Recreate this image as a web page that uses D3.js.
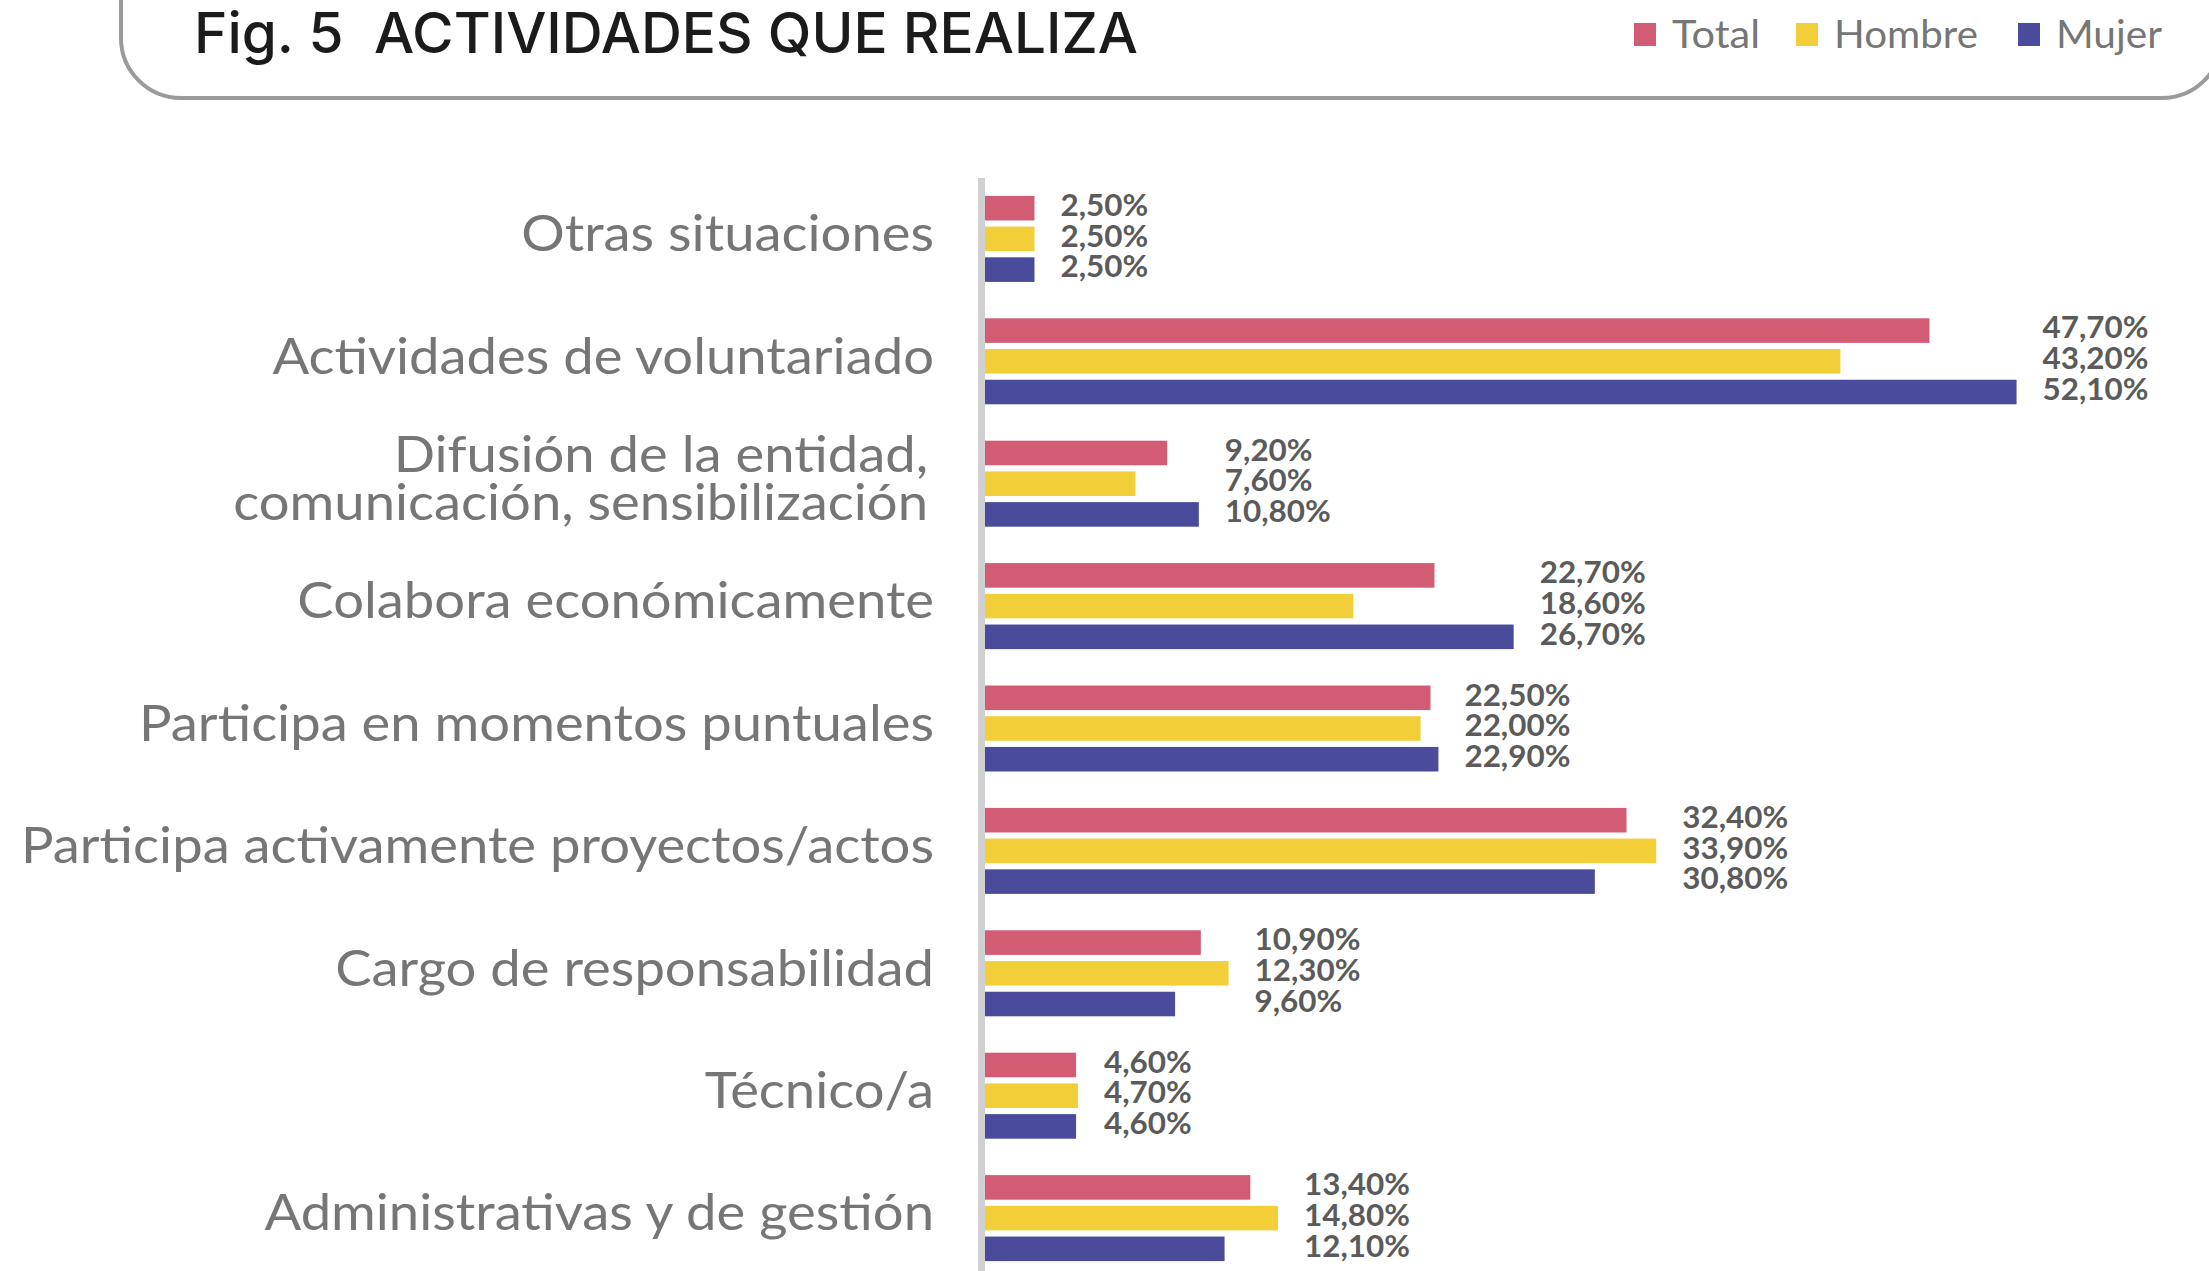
<!DOCTYPE html>
<html>
<head>
<meta charset="utf-8">
<script src="https://cdn.jsdelivr.net/npm/d3@7"></script>
<style>
  html, body { margin: 0; padding: 0; background: #ffffff; }
  svg { display: block; }
  .title { white-space: pre; }
</style>
</head>
<body>
<svg id="chart" width="2209" height="1271"></svg>
<script>
// ---------- data ----------
const categories = [
  "Otras situaciones",
  "Actividades de voluntariado",
  "Difusión de la entidad,\ncomunicación, sensibilización",
  "Colabora económicamente",
  "Participa en momentos puntuales",
  "Participa activamente proyectos/actos",
  "Cargo de responsabilidad",
  "Técnico/a",
  "Administrativas y de gestión"
];
const seriesNames = ["Total", "Hombre", "Mujer"];
const totalValues  = [2.5, 47.7, 9.2, 22.7, 22.5, 32.4, 10.9, 4.6, 13.4];
const hombreValues = [2.5, 43.2, 7.6, 18.6, 22.0, 33.9, 12.3, 4.7, 14.8];
const mujerValues  = [2.5, 52.1, 10.8, 26.7, 22.9, 30.8, 9.6, 4.6, 12.1];
const seriesColors = ["#D25C73", "#F2CF38", "#4A4B9B"];
const titleText = "Fig. 5  ACTIVIDADES QUE REALIZA";

// ---------- build ----------
const valuesBySeries = [totalValues, hombreValues, mujerValues];
const rows = categories.map((c, i) => ({
  category: c,
  values: seriesNames.map((s, j) => ({ series: s, value: valuesBySeries[j][i] }))
}));

const svg = d3.select("#chart");
const locale = d3.formatLocale({ decimal: ",", thousands: ".", grouping: [3], currency: ["", "€"] });
const fmt = v => locale.format(".2f")(v) + "%";

// scales
const x = d3.scaleLinear().domain([0, 60]).range([985, 985 + 60 * 19.8]);
const y = d3.scaleBand().domain(categories).range([178, 178 + 9 * 122.4]).padding(0);
const yInner = d3.scaleBand().domain(seriesNames).range([17.9, 103.9]).paddingInner(0.2);
const color = d3.scaleOrdinal().domain(seriesNames).range(seriesColors);

// ---------- header box ----------
svg.append("rect")
  .attr("x", 121).attr("y", -100)
  .attr("width", 2222 - 121).attr("height", 198)
  .attr("rx", 60).attr("ry", 60)
  .attr("fill", "none")
  .attr("stroke", "#9a9a9a")
  .attr("stroke-width", 4);

svg.append("text")
  .attr("class", "title")
  .attr("x", 194).attr("y", 53)
  .attr("font-family", "Inter, 'Open Sans', sans-serif")
  .attr("font-weight", 500)
  .attr("font-size", 56)
  .attr("fill", "#1b1b1b")
  .attr("textLength", 944)
  .attr("lengthAdjust", "spacingAndGlyphs")
  .text(titleText);

// legend
const legendX = [1634, 1796, 2018];
const legendW = [88, 144, 106];
const lg = svg.append("g");
seriesNames.forEach((s, i) => {
  lg.append("rect")
    .attr("x", legendX[i]).attr("y", 23)
    .attr("width", 22).attr("height", 23)
    .attr("fill", color(s));
  lg.append("text")
    .attr("x", legendX[i] + 38).attr("y", 48)
    .attr("font-family", "Lato, 'Open Sans', sans-serif")
    .attr("font-size", 38)
    .attr("fill", "#767676")
    .attr("textLength", legendW[i])
    .attr("lengthAdjust", "spacingAndGlyphs")
    .text(s);
});

// ---------- bars ----------
const groups = svg.append("g").selectAll("g.grp")
  .data(rows).join("g")
  .attr("class", "grp")
  .attr("transform", d => `translate(0,${y(d.category)})`);

groups.selectAll("rect")
  .data(d => d.values).join("rect")
  .attr("x", x(0))
  .attr("y", d => yInner(d.series))
  .attr("width", d => x(d.value) - x(0))
  .attr("height", yInner.bandwidth())
  .attr("fill", d => color(d.series));

// value labels
groups.each(function (d) {
  const maxV = d3.max(d.values, v => v.value);
  d3.select(this).selectAll("text.val")
    .data(d.values).join("text")
    .attr("class", "val")
    .attr("x", x(maxV) + 26)
    .attr("y", v => yInner(v.series) + yInner.bandwidth() / 2 - 3)
    .attr("dy", "0.36em")
    .attr("font-family", "Lato, 'Open Sans', sans-serif")
    .attr("font-weight", 700)
    .attr("font-size", 30)
    .attr("fill", "#5b5b5b")
    .text(v => fmt(v.value));
});

// scale value labels to Calibri-like width
const vals = svg.selectAll("text.val");
let refLen = 0;
vals.each(function () { if (this.textContent === "47,70%") refLen = this.getComputedTextLength(); });
const kv = refLen > 0 ? 106 / refLen : 1;
vals.each(function () {
  const L = this.getComputedTextLength();
  d3.select(this).attr("textLength", L * kv).attr("lengthAdjust", "spacingAndGlyphs");
});

// axis line
svg.append("line")
  .attr("x1", 981.5).attr("x2", 981.5)
  .attr("y1", 178).attr("y2", 1271)
  .attr("stroke", "#d0d0d3")
  .attr("stroke-width", 7);

// category labels
const catG = svg.append("g");
rows.forEach(d => {
  const lines = d.category.split("\n");
  const cy = y(d.category) + y.bandwidth() / 2;
  const xr = lines.length > 1 ? 928 : 934;
  lines.forEach((ln, k) => {
    const off = (k - (lines.length - 1) / 2) * 48;
    catG.append("text")
      .attr("class", "cat")
      .attr("x", xr)
      .attr("y", cy + off + 12)
      .attr("text-anchor", "end")
      .attr("font-family", "Lato, 'Open Sans', sans-serif")
      .attr("font-size", 51)
      .attr("fill", "#767676")
      .text(ln);
  });
});
const cats = svg.selectAll("text.cat");
let refCat = 0;
cats.each(function () { if (this.textContent === "Participa activamente proyectos/actos") refCat = this.getComputedTextLength(); });
const kc = refCat > 0 ? 913 / refCat : 1;
cats.each(function () {
  const L = this.getComputedTextLength();
  d3.select(this).attr("textLength", L * kc).attr("lengthAdjust", "spacingAndGlyphs");
});
</script>
</body>
</html>
